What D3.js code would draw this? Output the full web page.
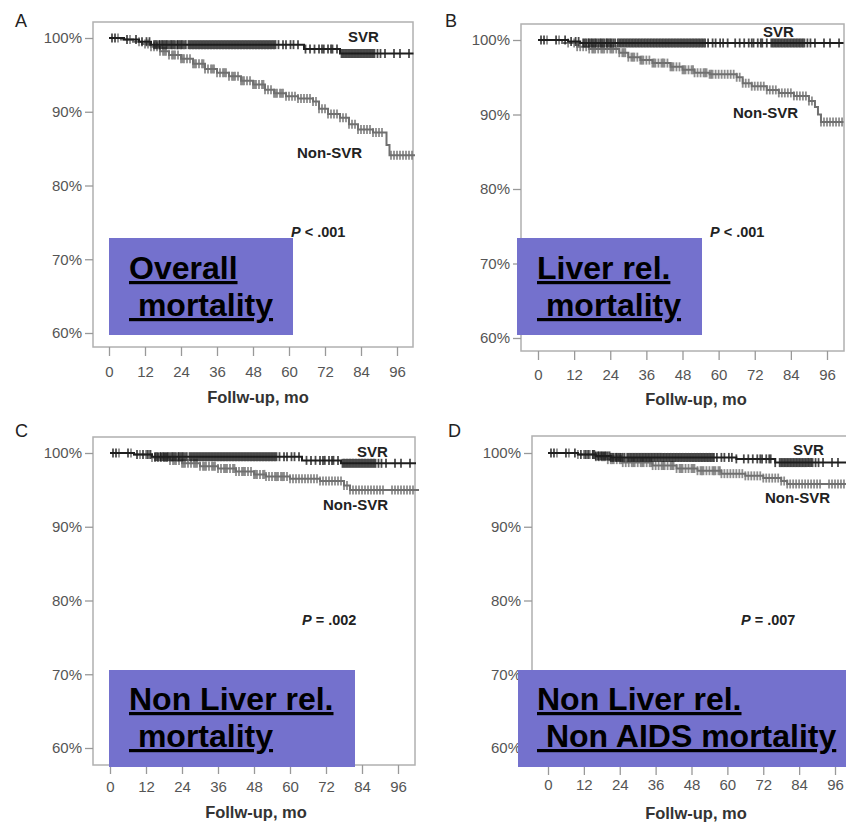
<!DOCTYPE html>
<html>
<head>
<meta charset="utf-8">
<script src="https://d3js.org/d3.v7.min.js"></script>
<style>
  body { margin: 0; background: #fff; }
  text { font-family: Arial, "Liberation Sans", sans-serif; }
</style>
</head>
<body>
<svg id="chart" width="846" height="822"></svg>
<script>
// Data
var yTicks = [60, 70, 80, 90, 100];
var xTicks = [0, 12, 24, 36, 48, 60, 72, 84, 96];
var panelLetters = ["A", "B", "C", "D"];
var boxLines = [
    ["Overall", " mortality"],
    ["Liver rel.", " mortality"],
    ["Non Liver rel.", " mortality"],
    ["Non Liver rel.", " Non AIDS mortality"]
];
var pLabels = ["< .001", "< .001", "= .002", "= .007"];

// Kaplan-Meier steps: [month, survival %]
var svrSteps = [
    [[0, 100], [5, 99.8], [10, 99.5], [14, 99.1], [65, 98.5], [77, 97.9]],
    [[0, 100], [10, 99.8], [14, 99.6]],
    [[0, 100], [8, 99.8], [14, 99.5], [64, 99.0], [77, 98.6]],
    [[0, 100], [10, 99.8], [16, 99.6], [21, 99.4], [63, 99.2], [76, 98.7]]
];
var nonSvrSteps = [
    [[0, 100], [4, 99.8], [8, 99.5], [11, 99.2], [14, 98.8], [17, 98.2], [20, 97.7], [24, 97.2],
     [28, 96.5], [32, 95.8], [36, 95.3], [40, 94.8], [44, 94.2], [48, 93.7], [52, 93.0], [55, 92.5],
     [59, 92.1], [63, 91.8], [68, 91.4], [70, 90.4], [73, 89.7], [77, 89.2], [80, 88.3], [83, 87.6],
     [88, 87.2], [92.5, 85.5], [93.5, 84.1]],
    [[0, 100], [8, 99.6], [13, 99.1], [17, 98.8], [27, 98.3], [30, 97.7], [34, 97.3], [38, 96.9],
     [44, 96.4], [48, 96.0], [52, 95.6], [57, 95.4], [66, 95.0], [68, 94.2], [71, 93.8], [76, 93.3],
     [80, 92.9], [85, 92.5], [90, 91.8], [92, 91.0], [93, 90.0], [94, 89.0]],
    [[0, 100], [8, 99.8], [14, 99.4], [20, 99.0], [24, 98.6], [30, 98.2], [36, 97.9], [42, 97.5],
     [48, 97.1], [52, 96.8], [60, 96.5], [70, 96.2], [78, 95.6], [80, 95.0]],
    [[0, 100], [10, 99.8], [16, 99.5], [20, 99.1], [25, 98.7], [35, 98.3], [43, 97.9], [50, 97.6],
     [58, 97.2], [66, 96.9], [72, 96.6], [78, 96.2], [80, 95.8]]
];
var svrEnd = [101.5, 101.5, 102, 101];
var nonSvrEnd = [102, 101.5, 103, 101];

// censoring times (months), same patients in every panel
var svrCensor = [1, 2, 6, 9, 11, 12.5, 13.5, 15, 15.5, 16, 16.7, 17, 17.6, 18, 18.5, 19, 19.4, 20,
    20.6, 21, 21.5, 22, 22.7, 23, 23.5, 24, 24.4, 25, 25.6, 26.5, 27, 27.5, 28, 28.5, 29, 29.5, 30,
    30.5, 31, 31.5, 32, 32.5, 33, 33.5, 34, 34.5, 35, 35.5, 36, 36.5, 37, 37.5, 38, 38.5, 39, 39.5,
    40, 40.5, 41, 41.5, 42, 42.5, 43, 43.5, 44, 44.5, 45, 45.5, 46, 46.5, 47, 47.5, 48, 48.5, 49,
    49.5, 50, 50.5, 51, 51.5, 52, 52.5, 53, 53.5, 54, 54.5, 55, 55.5, 56.5, 58, 59, 60.5, 61.5, 63,
    65.5, 67, 68.5, 70, 71, 71.6, 73, 74, 74.5, 76, 77.5, 78, 78.5, 79, 79.5, 80, 80.5, 81, 81.5,
    82, 82.5, 83, 83.5, 84, 84.5, 85, 85.5, 86, 86.5, 87, 87.5, 88, 88.5, 89.5, 90.5, 92, 95, 97, 100];
var nonSvrCensor = [3, 7, 10, 12, 13, 14, 15, 16, 17, 18, 18.5, 19, 20, 21, 21.5, 22, 23, 24, 24.5,
    25, 26, 27, 28, 28.5, 29, 30, 31, 31.5, 32, 33, 34, 34.5, 35, 36, 37, 38, 38.5, 39, 40, 41, 41.5,
    42, 43, 44, 44.5, 45, 46, 47, 48, 48.5, 49, 50, 51, 51.5, 52, 53, 54, 55, 55.5, 56, 57, 57.5,
    58, 59, 60, 61, 62, 63, 64, 65, 66, 67, 68, 69, 70, 71, 72, 73, 74, 75, 76, 77, 78, 79, 80,
    81, 82, 83, 84, 85, 86, 87, 88, 89, 90, 91, 94, 95, 96, 97, 98, 99, 100, 101];

// panel geometry
var layout = [
    { frame: [93, 22, 413, 347], y100: 38, y60: 333, x0: 109, x96: 397, tickY: 377, titleX: 258, titleY: 403,
      letter: [15, 27], box: [109, 238, 293, 335], text: [129, 279, 316], p: [291, 237], svr: [348, 42], non: [297, 158] },
    { frame: [521, 24, 844, 351], y100: 40, y60: 338, x0: 538, x96: 827, tickY: 380, titleX: 696, titleY: 405,
      letter: [445, 27], box: [517, 238, 702, 335], text: [537, 279, 316], p: [710, 237], svr: [763, 37], non: [733, 118] },
    { frame: [93, 437, 415, 765], y100: 453, y60: 748, x0: 110, x96: 398, tickY: 792, titleX: 256, titleY: 818,
      letter: [15, 437], box: [109, 670, 355, 767], text: [129, 710, 747], p: [302, 625], svr: [357, 457], non: [323, 510] },
    { frame: [532, 436, 852, 766], y100: 453, y60: 748, x0: 548, x96: 835, tickY: 790, titleX: 696, titleY: 819,
      letter: [448, 437], box: [518, 670, 846, 767], text: [537, 710, 747], p: [741, 625], svr: [793, 455], non: [765, 503] }
];

var svg = d3.select("#chart");

function survAt(steps, t) {
    var s = steps[0][1];
    steps.forEach(function (d) { if (d[0] <= t) s = d[1]; });
    return s;
}

layout.forEach(function (L, i) {
    var g = svg.append("g");
    var x = d3.scaleLinear().domain([0, 96]).range([L.x0, L.x96]);
    var y = d3.scaleLinear().domain([60, 100]).range([L.y60, L.y100]);
    var f = L.frame;

    // frame
    g.append("rect")
        .attr("x", f[0]).attr("y", f[1])
        .attr("width", f[2] - f[0]).attr("height", f[3] - f[1])
        .attr("fill", "none").attr("stroke", "#b0b0b0").attr("stroke-width", 1.5);

    // y axis
    var yAxis = g.append("g").attr("transform", "translate(" + f[0] + ",0)")
        .call(d3.axisLeft(y).tickValues(yTicks).tickSize(8).tickFormat(function (d) { return d + "%"; }));
    yAxis.select(".domain").remove();
    yAxis.selectAll("line").attr("stroke", "#999").attr("stroke-width", 1.3);
    yAxis.selectAll("text").attr("font-size", "15px").attr("fill", "#555").attr("x", -11)
        .style("font-family", "Arial, 'Liberation Sans', sans-serif");

    // x axis
    var xAxis = g.append("g").attr("transform", "translate(0," + f[3] + ")")
        .call(d3.axisBottom(x).tickValues(xTicks).tickSize(9).tickFormat(d3.format("d")));
    xAxis.select(".domain").remove();
    xAxis.selectAll("line").attr("stroke", "#999").attr("stroke-width", 1.3);
    xAxis.selectAll("text").attr("font-size", "15px").attr("fill", "#555")
        .attr("y", L.tickY - f[3]).attr("dy", 0)
        .style("font-family", "Arial, 'Liberation Sans', sans-serif");

    g.append("text")
        .attr("x", L.titleX).attr("y", L.titleY)
        .attr("text-anchor", "middle")
        .attr("font-size", "16.5px").attr("font-weight", "bold").attr("fill", "#333")
        .text("Follw-up, mo");

    // curves
    var line = d3.line()
        .x(function (d) { return x(d[0]); })
        .y(function (d) { return y(d[1]); })
        .curve(d3.curveStepAfter);

    var groups = [
        { steps: nonSvrSteps[i], end: nonSvrEnd[i], censor: nonSvrCensor, color: "#707070" },
        { steps: svrSteps[i], end: svrEnd[i], censor: svrCensor, color: "#1e1e1e" }
    ];
    groups.forEach(function (c) {
        var pts = c.steps.concat([[c.end, c.steps[c.steps.length - 1][1]]]);
        g.append("path")
            .attr("d", line(pts))
            .attr("fill", "none").attr("stroke", c.color).attr("stroke-width", 2);
        g.selectAll(null)
            .data(c.censor.filter(function (t) { return t <= c.end; }))
            .enter().append("line")
            .attr("x1", function (t) { return x(t); })
            .attr("x2", function (t) { return x(t); })
            .attr("y1", function (t) { return y(survAt(c.steps, t)) - 4.5; })
            .attr("y2", function (t) { return y(survAt(c.steps, t)) + 4.5; })
            .attr("stroke", c.color).attr("stroke-width", 1.8).attr("stroke-opacity", 0.8);
    });

    // curve labels
    g.append("text").attr("x", L.svr[0]).attr("y", L.svr[1])
        .attr("font-size", "15px").attr("font-weight", "bold").attr("fill", "#222").text("SVR");
    g.append("text").attr("x", L.non[0]).attr("y", L.non[1])
        .attr("font-size", "15px").attr("font-weight", "bold").attr("fill", "#222").text("Non-SVR");

    // p value
    var pt = g.append("text").attr("x", L.p[0]).attr("y", L.p[1])
        .attr("font-size", "14.5px").attr("font-weight", "bold").attr("fill", "#222");
    pt.append("tspan").attr("font-style", "italic").text("P");
    pt.append("tspan").text(" " + pLabels[i]);

    // panel letter
    g.append("text").attr("x", L.letter[0]).attr("y", L.letter[1])
        .attr("font-size", "18px").attr("fill", "#222").text(panelLetters[i]);

    // overlay box
    var b = L.box;
    g.append("rect")
        .attr("x", b[0]).attr("y", b[1])
        .attr("width", b[2] - b[0]).attr("height", b[3] - b[1])
        .attr("fill", "#7471cd");
    boxLines[i].forEach(function (s, k) {
        g.append("text")
            .attr("x", L.text[0]).attr("y", L.text[1 + k])
            .attr("font-size", "32px").attr("font-weight", "bold").attr("fill", "#000")
            .style("white-space", "pre")
            .style("text-decoration", "underline")
            .text(s);
    });
});
</script>
</body>
</html>
